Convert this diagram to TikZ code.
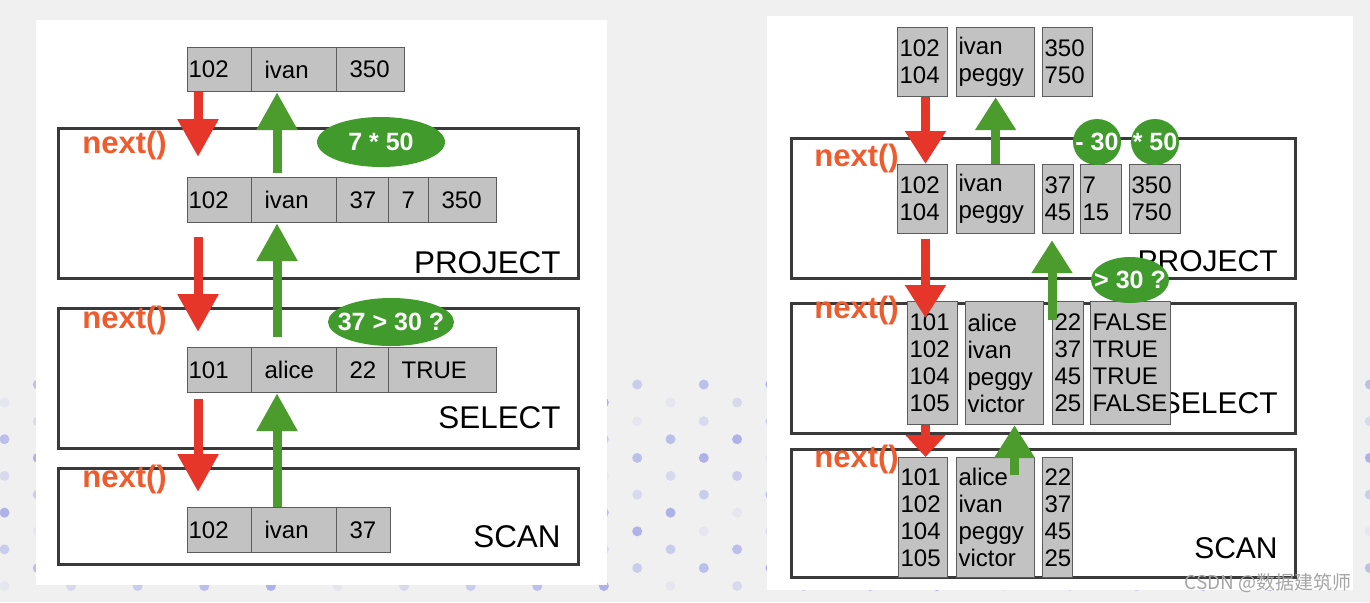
\documentclass[tikz,border=0pt]{standalone}
\usepackage{fontspec}
\setmainfont{Liberation Sans}
\newfontfamily\cjkfont{Noto Sans CJK SC}
\usepackage{tikz}
\usetikzlibrary{arrows.meta}
\definecolor{Canvas}{HTML}{F0F0F0}
\definecolor{Dot}{HTML}{9EA3E8}
\definecolor{Cell}{HTML}{C2C2C2}
\definecolor{CellEdge}{HTML}{5C5C5C}
\definecolor{Frame}{HTML}{3A3A3A}
\definecolor{Pull}{HTML}{E6362A}
\definecolor{Call}{HTML}{EE5B2D}
\definecolor{Push}{HTML}{4C9B2D}
\definecolor{Expr}{HTML}{409A2C}
\definecolor{Mark}{HTML}{A5A5A5}

\begin{document}
\begin{tikzpicture}[x=0.5pt,y=-0.5pt,
    cell/.style={draw=CellEdge,line width=0.6pt,fill=Cell,anchor=north west,inner ysep=0pt,align=left,font=\fontsize{12}{13.5}\selectfont},
    opbox/.style={draw=Frame,line width=1.3pt,fill=white,anchor=north west,inner sep=0pt},
    oplabel/.style={anchor=base east,inner sep=0pt,font=\fontsize{15.7}{18}\selectfont},
    call/.style={anchor=base west,inner sep=0pt,text=Call,font=\fontsize{15.5}{18}\selectfont\bfseries},
    expr/.style={inner sep=0pt,text=white,font=\fontsize{12.5}{14}\selectfont\bfseries},
    pull/.style={draw=Pull,line width=4.5pt,-{Triangle[width=19.5pt,length=#1]}},
    pull/.default=19pt,
    push/.style={draw=Push,line width=4.5pt,-{Triangle[width=19.5pt,length=#1]}},
    push/.default=19pt]
    \fill[Canvas] (0,0) rectangle (1370,602);
    \useasboundingbox (0,0) rectangle (1370,602);
    \foreach \k in {0,...,41}{
      \pgfmathsetmacro\dx{4.5+33.3*\k}
      \pgfmathsetmacro\dy{mod(\k,2)==0 ? 586 : 568}
      \foreach \n in {0,...,5}{
        \pgfmathsetmacro\op{0.12+0.17*mod(\k*3+\n*7,5)}
        \fill[Dot,opacity=\op] (\dx,\dy-36.7*\n) circle (5);
      }
    }
    \fill[white] (36,20) rectangle (607,585);
    \fill[white] (767,16) rectangle (1353,590);

    \node[opbox,minimum width=260pt,minimum height=75pt] (lproject) at (57,127) {};
    \node[opbox,minimum width=260pt,minimum height=70pt] (lselect) at (57,307) {};
    \node[opbox,minimum width=260pt,minimum height=48pt] (lscan) at (57,467) {};
    \node[opbox,minimum width=252pt,minimum height=70pt] (rproject) at (790,137) {};
    \node[opbox,minimum width=252pt,minimum height=65pt] (rselect) at (790,302) {};
    \node[opbox,minimum width=252pt,minimum height=64pt] (rscan) at (790,448) {};

    \node[oplabel] (lprojname) at (561,273) {PROJECT};
    \node[oplabel] (lselname) at (561,428) {SELECT};
    \node[oplabel] (lscanname) at (561,547) {SCAN};
    \node[oplabel,font=\fontsize{15}{18}\selectfont] (rprojname) at (1278,271) {PROJECT};
    \node[oplabel,font=\fontsize{15}{18}\selectfont] (rselname) at (1278,413) {SELECT};
    \node[oplabel,font=\fontsize{15}{18}\selectfont] (rscanname) at (1278,558) {SCAN};

    \node[call] (lnext1) at (82,153) {next()};
    \node[call] (lnext2) at (82,328) {next()};
    \node[call] (lnext3) at (82,487) {next()};
    \node[call] (rnext1) at (814,166) {next()};
    \node[call] (rnext2) at (814,318) {next()};
    \node[call] (rnext3) at (814,467) {next()};

    \foreach \y/\h/\r/\row in {47/44/0/{a/187/64/1/102,b/251/85/13/ivan,c/336/68/13/350},
        177/45/1/{a/187/64/1/102,b/251/85/13/ivan,c/336/52/13/37,d/388/40/13/7,e/428/68/13/350},
        347/45/2/{a/187/64/1/101,b/251/85/13/alice,c/336/52/13/22,d/388/108/13/TRUE},
        507/45/3/{a/187/64/1/102,b/251/85/13/ivan,c/336/54/13/37}}{
      \foreach \n/\x/\w/\s/\t in \row{
        \pgfmathsetmacro\tw{(\w-2*\s)/2}\pgfmathsetmacro\sp{\s/2}
        \node[cell,minimum width=\w*0.5pt,minimum height=\h*0.5pt,text width=\tw pt,inner xsep=\sp pt] (l\r\n) at (\x,\y) {\t};
      }
    }
    \foreach \y/\h/\r/\row in {27/69/0/{a/897/50/2/102\\104,b/956/78/2/ivan\\peggy,c/1042/50/2/350\\750},
        164/69/1/{a/897/50/2/102\\104,b/956/78/2/ivan\\peggy,c/1042/31/2/37\\45,d/1080/41/2/7\\15,e/1129/51/2/350\\750},
        301/123/2/{a/907/50/2/101\\102\\104\\105,b/965/78/2/alice\\ivan\\peggy\\victor,c/1052/31/2/22\\37\\45\\25,d/1090/80/2/FALSE\\TRUE\\TRUE\\FALSE},
        457/120/3/{a/898/49/2/101\\102\\104\\105,b/956/78/2/alice\\ivan\\peggy\\victor,c/1042/30/2/22\\37\\45\\25}}{
      \foreach \n/\x/\w/\s/\t in \row{
        \pgfmathsetmacro\tw{(\w-2*\s)/2}\pgfmathsetmacro\sp{\s/2}
        \node[cell,minimum width=\w*0.5pt,minimum height=\h*0.5pt,text width=\tw pt,inner xsep=\sp pt] (r\r\n) at (\x,\y) {\t};
      }
    }

    \coordinate (ldown) at (198,0);
    \coordinate (lup) at (277,0);
    \coordinate (lstop1) at (198,157);
    \coordinate (lstop2) at (198,332);
    \coordinate (lstop3) at (198,492);
    \draw[pull] (l0a.south -| ldown) -- (lstop1);
    \draw[pull,shorten <=7pt] (l1a.south -| ldown) -- (lstop2);
    \draw[pull,shorten <=3pt] (l2a.south -| ldown) -- (lstop3);
    \draw[push,shorten <=2pt] (l1b.north -| lup) -- (l0b.south -| lup);
    \draw[push,shorten <=5pt] (l2b.north -| lup) -- (l1b.south -| lup);
    \draw[push] (l3b.north -| lup) -- (l2b.south -| lup);

    \coordinate (rdown) at (925.5,0);
    \coordinate (rstop2) at (925.5,318);
    \coordinate (rfrom2) at (1052,320);
    \coordinate (rfrom3) at (1014.5,475);
    \draw[pull=16.5pt] (r0a.south -| rdown) -- (r1a.north -| rdown);
    \draw[pull=16.5pt,shorten <=2.5pt] (r1a.south -| rdown) -- (rstop2);
    \draw[pull=11pt] (r2a.south -| rdown) -- (r3a.north -| rdown);
    \draw[push=16.5pt] (r1b.north -| r0b.south) -- (r0b.south);
    \draw[push=16.5pt,shorten >=3pt] (rfrom2) -- (rfrom2 |- r1c.south);
    \draw[push=16.5pt] (rfrom3) -- (rfrom3 |- r2b.south);

    \fill[Expr] (381,142) ellipse [x radius=64, y radius=25];
    \fill[Expr] (391,322) ellipse [x radius=63, y radius=24];
    \fill[Expr] (1097,142) ellipse [x radius=24, y radius=23];
    \fill[Expr] (1155,142) ellipse [x radius=24, y radius=23];
    \fill[Expr] (1130,280) ellipse [x radius=39, y radius=23];
    \node[expr] (ltimes) at (381,142) {7 * 50};
    \node[expr] (lcheck) at (391,322) {37 > 30 ?};
    \node[expr] (rminus) at (1097,142) {- 30};
    \node[expr] (rtimes) at (1155,142) {* 50};
    \node[expr] (rcheck) at (1130,280) {> 30 ?};

    \node[anchor=east,inner sep=0pt,text=Mark,font=\cjkfont\fontsize{9.5}{11}\selectfont] (mark) at (1352,583) {CSDN @数据建筑师};
  \end{tikzpicture}
\end{document}
